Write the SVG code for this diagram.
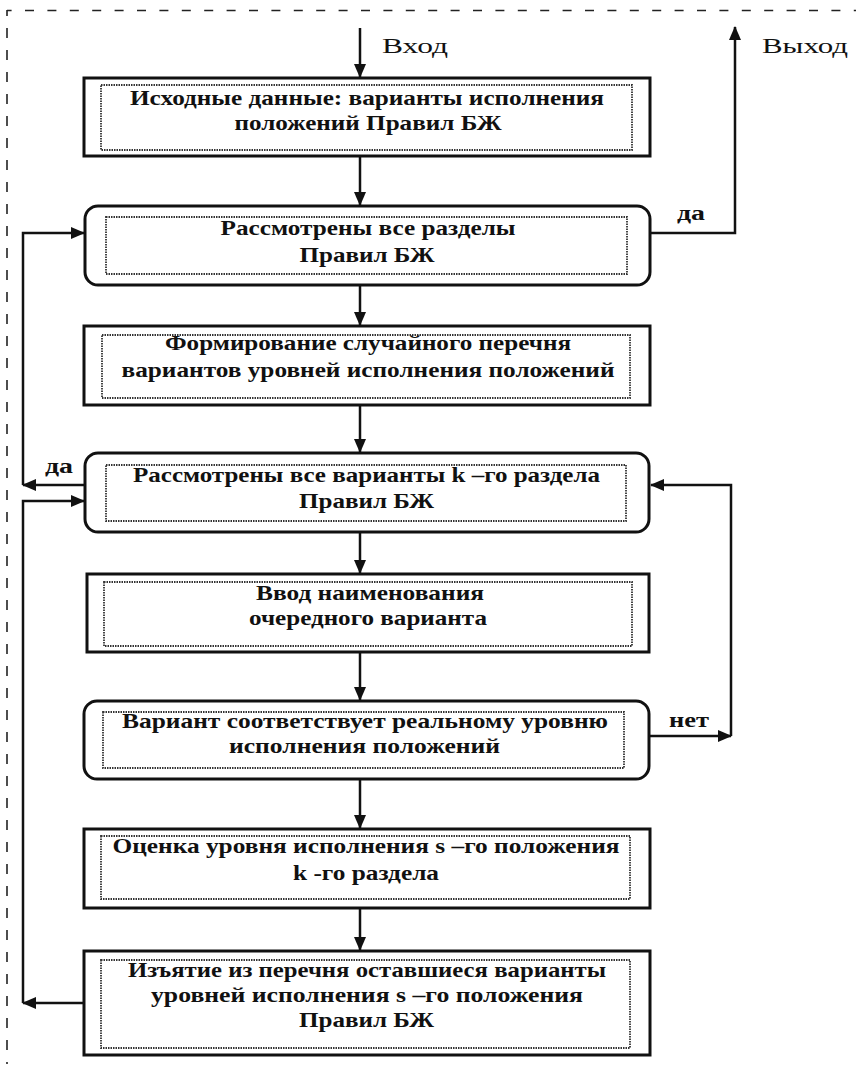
<svg xmlns="http://www.w3.org/2000/svg" width="856" height="1066" viewBox="0 0 856 1066">
<defs>
<style>
.box{fill:#fff;stroke:#111;stroke-width:3}
.inner{fill:none;stroke:#333;stroke-width:1.8;stroke-dasharray:1.5 1}
.t{font-family:"Liberation Serif","Times New Roman",serif;font-size:21px;font-weight:bold;fill:#111;text-anchor:middle}
.lbl{font-family:"Liberation Serif","Times New Roman",serif;font-size:22px;fill:#111}
.lblb{font-family:"Liberation Serif","Times New Roman",serif;font-size:20px;font-weight:bold;fill:#111}
.c{fill:none;stroke:#111;stroke-width:2.5}
.frame{fill:none;stroke:#222;stroke-width:1.6}
</style>
<marker id="ah" markerUnits="userSpaceOnUse" markerWidth="14" markerHeight="12" viewBox="0 0 14 12" refX="13" refY="6" orient="auto">
<path d="M0,0 L14,6 L0,12 Z" fill="#111"/>
</marker>
</defs>
<rect x="0" y="0" width="856" height="1066" fill="#fff"/>
<g id="frame">
<line class="frame" x1="7" y1="10.5" x2="856" y2="10.5" stroke-dasharray="9 13.4" stroke-dashoffset="4.4"/>
<line class="frame" x1="7" y1="10" x2="7" y2="1064" stroke-dasharray="10 12" stroke-dashoffset="4"/>
</g>
<g id="connectors">
<line class="c" x1="360" y1="28" x2="360" y2="77" marker-end="url(#ah)"/>
<line class="c" x1="360" y1="157" x2="360" y2="205" marker-end="url(#ah)"/>
<line class="c" x1="360" y1="286" x2="360" y2="325" marker-end="url(#ah)"/>
<line class="c" x1="360" y1="406" x2="360" y2="452" marker-end="url(#ah)"/>
<line class="c" x1="360" y1="533" x2="360" y2="573" marker-end="url(#ah)"/>
<line class="c" x1="360" y1="653" x2="360" y2="700" marker-end="url(#ah)"/>
<line class="c" x1="360" y1="780" x2="360" y2="828" marker-end="url(#ah)"/>
<line class="c" x1="360" y1="909" x2="360" y2="950" marker-end="url(#ah)"/>
<path class="c" d="M651,233 H735 V27" marker-end="url(#ah)"/>
<path class="c" d="M84,485 H23" marker-end="url(#ah)"/>
<path class="c" d="M23,485 V233 H84" marker-end="url(#ah)"/>
<path class="c" d="M83,1003 H23" marker-end="url(#ah)"/>
<path class="c" d="M23,1003 V501 H84" marker-end="url(#ah)"/>
<path class="c" d="M650,736 H731" marker-end="url(#ah)"/>
<path class="c" d="M731,736 V485 H651" marker-end="url(#ah)"/>
<text class="lbl" x="382" y="53" textLength="66" lengthAdjust="spacingAndGlyphs">Вход</text>
<text class="lbl" x="762" y="53" textLength="86" lengthAdjust="spacingAndGlyphs">Выход</text>
<text class="lblb" x="677" y="220" textLength="28" lengthAdjust="spacingAndGlyphs">да</text>
<text class="lblb" x="45" y="473" textLength="28" lengthAdjust="spacingAndGlyphs">да</text>
<text class="lblb" x="669" y="727" textLength="40" lengthAdjust="spacingAndGlyphs">нет</text>
</g>
<g id="n1">
<rect class="box" x="84" y="78" width="566" height="78"/>
<rect class="inner" x="101" y="85" width="531" height="65"/>
<text class="t" x="367" y="105" textLength="474" lengthAdjust="spacingAndGlyphs">Исходные данные: варианты исполнения</text>
<text class="t" x="368" y="130" textLength="267" lengthAdjust="spacingAndGlyphs">положений Правил БЖ</text>
</g>
<g id="n2">
<rect class="box" x="85" y="206" width="565" height="79" rx="13"/>
<rect class="inner" x="106" y="217" width="521" height="57"/>
<text class="t" x="368" y="235" textLength="295" lengthAdjust="spacingAndGlyphs">Рассмотрены все разделы</text>
<text class="t" x="367" y="261.5" textLength="135" lengthAdjust="spacingAndGlyphs">Правил БЖ</text>
</g>
<g id="n3">
<rect class="box" x="84" y="326" width="566" height="79"/>
<rect class="inner" x="102" y="335" width="528" height="63"/>
<text class="t" x="368" y="350" textLength="406" lengthAdjust="spacingAndGlyphs">Формирование случайного перечня</text>
<text class="t" x="368" y="376.5" textLength="493" lengthAdjust="spacingAndGlyphs">вариантов уровней исполнения положений</text>
</g>
<g id="n4">
<rect class="box" x="85" y="453" width="564" height="79" rx="13"/>
<rect class="inner" x="106" y="465" width="520" height="56"/>
<text class="t" x="366.5" y="481.5" textLength="467" lengthAdjust="spacingAndGlyphs">Рассмотрены все варианты k –го раздела</text>
<text class="t" x="366.5" y="508" textLength="135" lengthAdjust="spacingAndGlyphs">Правил БЖ</text>
</g>
<g id="n5">
<rect class="box" x="87" y="574" width="562" height="78"/>
<rect class="inner" x="104" y="582" width="528" height="64"/>
<text class="t" x="370" y="600" textLength="228" lengthAdjust="spacingAndGlyphs">Ввод наименования</text>
<text class="t" x="368" y="625" textLength="238" lengthAdjust="spacingAndGlyphs">очередного варианта</text>
</g>
<g id="n6">
<rect class="box" x="84" y="701" width="565" height="78" rx="13"/>
<rect class="inner" x="103" y="712" width="521" height="56"/>
<text class="t" x="365" y="728" textLength="486" lengthAdjust="spacingAndGlyphs">Вариант соответствует реальному уровню</text>
<text class="t" x="364.5" y="753" textLength="271" lengthAdjust="spacingAndGlyphs">исполнения положений</text>
</g>
<g id="n7">
<rect class="box" x="84" y="829" width="566" height="79"/>
<rect class="inner" x="101" y="836" width="529" height="63"/>
<text class="t" x="366" y="853" textLength="507" lengthAdjust="spacingAndGlyphs">Оценка уровня исполнения s –го положения</text>
<text class="t" x="366" y="880" textLength="146" lengthAdjust="spacingAndGlyphs">k -го раздела</text>
</g>
<g id="n8">
<rect class="box" x="84" y="951" width="566" height="104"/>
<rect class="inner" x="101" y="960" width="529" height="88"/>
<text class="t" x="367" y="976.5" textLength="478" lengthAdjust="spacingAndGlyphs">Изъятие из перечня оставшиеся варианты</text>
<text class="t" x="367" y="1001.5" textLength="432" lengthAdjust="spacingAndGlyphs">уровней исполнения s –го положения</text>
<text class="t" x="366.5" y="1026.5" textLength="135" lengthAdjust="spacingAndGlyphs">Правил БЖ</text>
</g>
</svg>
